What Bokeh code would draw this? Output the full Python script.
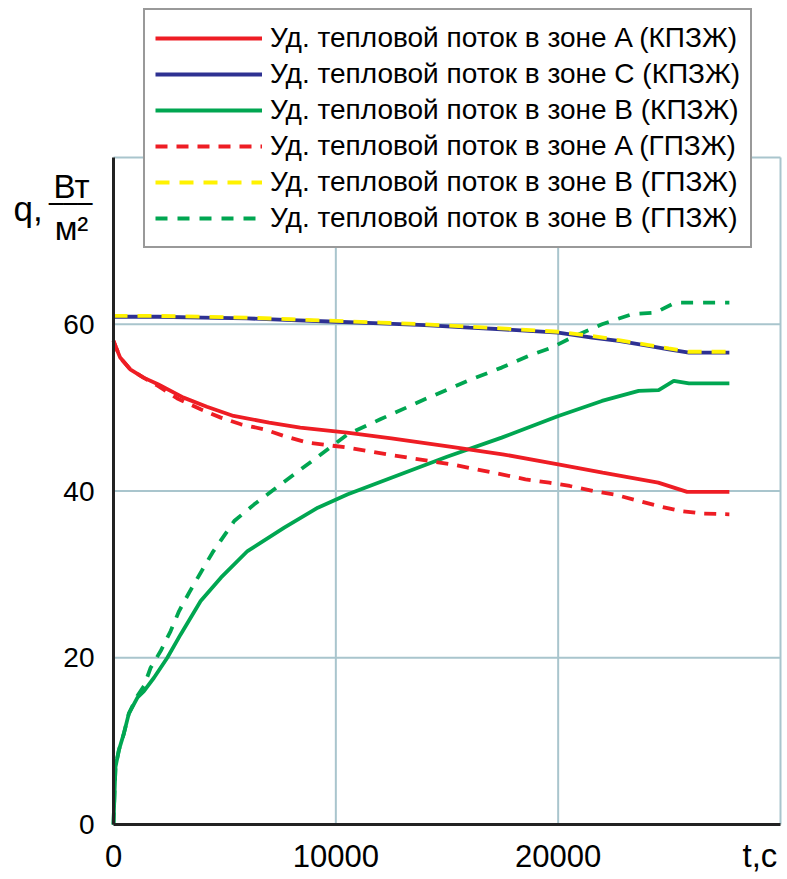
from bokeh.plotting import figure
from bokeh.models import (Legend, LegendItem, FixedTicker, Label, Range1d,
                          PrintfTickFormatter)
from bokeh.embed import file_html
from bokeh.resources import INLINE

# ---------------- data ----------------
# Zone A, КПЗЖ (solid red)
t_a_k = [0, 100, 300, 750, 1350, 2000, 3150, 4200, 5400, 7000, 8400, 10500, 12500,
         15200, 17500, 20000, 22000, 24500, 25800, 27700]
q_a_k = [58.0, 57.3, 56.0, 54.6, 53.6, 52.8, 51.2, 50.1, 49.0, 48.2, 47.6, 47.0, 46.3,
         45.3, 44.4, 43.2, 42.2, 41.0, 39.9, 39.9]

# Zone C, КПЗЖ (solid blue)
t_c_k = [0, 2000, 4000, 6000, 8000, 10000, 12000, 14000, 16000, 17460, 20000, 21520,
         22720, 24070, 24970, 25880, 27700]
q_c_k = [60.9, 60.9, 60.8, 60.7, 60.5, 60.3, 60.1, 59.9, 59.6, 59.4, 59.0, 58.4,
         58.0, 57.4, 57.0, 56.6, 56.6]

# Zone B, КПЗЖ (solid green)
t_b_k = [0, 50, 90, 240, 465, 690, 1070, 1370, 1820, 2420, 3020, 3920, 4830, 6030,
         7680, 9190, 10540, 12500, 15000, 17460, 20010, 21970, 23620, 24520, 25200,
         25880, 27700]
q_b_k = [0.0, 4.1, 6.9, 8.9, 10.9, 13.3, 15.2, 16.0, 17.6, 20.0, 22.8, 26.8, 29.6, 32.8,
         35.6, 38.0, 39.6, 41.6, 44.1, 46.4, 49.0, 50.8, 52.0, 52.1, 53.2,
         52.9, 52.9]

# Zone A, ГПЗЖ (dashed red)
t_a_g = [0, 100, 300, 750, 1350, 2000, 2870, 3920, 4830, 5730, 6770, 7670, 8740, 10540,
         12500, 15200, 17460, 18530, 19600, 20520, 21590, 22500, 23500, 24500, 25500,
         26500, 27700]
q_a_g = [58.0, 57.3, 56.0, 54.6, 53.6, 52.6, 51.1, 49.8, 48.8, 48.0, 47.4, 46.6, 45.8, 45.2,
         44.3, 43.2, 42.0, 41.4, 41.0, 40.6, 40.0, 39.6, 38.9, 38.2, 37.6,
         37.3, 37.2]

# Zone B, ГПЗЖ (dashed yellow)
t_y_g = [0, 2000, 4000, 6000, 8000, 10000, 12000, 14000, 16000, 17460, 20000, 21520,
         22720, 24070, 24970, 25880, 27700]
q_y_g = [61.0, 61.0, 60.9, 60.8, 60.6, 60.4, 60.2, 60.0, 59.7, 59.5, 59.1, 58.6,
         58.1, 57.5, 57.1, 56.7, 56.7]

# Zone B, ГПЗЖ (dashed green)
t_b_g = [0, 50, 90, 240, 465, 690, 1070, 1370, 1670, 2120, 2570, 2950, 3400, 3920, 4450,
         5430, 6330, 7230, 8130, 9030, 9930, 10540, 12000, 14000, 16000, 17460, 18660,
         19710, 20760, 21970, 23320, 24370, 25270, 27700]
q_b_g = [0.0, 4.1, 6.9, 8.9, 10.9, 13.3, 15.4, 16.6, 18.8, 20.8, 23.2, 25.6, 27.8, 30.2, 32.6,
         36.4, 38.4, 40.2, 42.0, 43.8, 45.6, 46.8, 48.6, 51.0, 53.3, 54.8, 56.2,
         57.2, 58.6, 60.0, 61.2, 61.4, 62.6, 62.6]

legend_labels = [
    "Уд. тепловой поток в зоне A (КПЗЖ)",
    "Уд. тепловой поток в зоне C (КПЗЖ)",
    "Уд. тепловой поток в зоне B (КПЗЖ)",
    "Уд. тепловой поток в зоне A (ГПЗЖ)",
    "Уд. тепловой поток в зоне B (ГПЗЖ)",
    "Уд. тепловой поток в зоне B (ГПЗЖ)",
]
x_ticks = [0, 10000, 20000]
y_ticks = [0, 20, 40, 60]
x_grid = [10000, 20000, 30000]
y_grid = [20, 40, 60, 80]
x_min, x_max = 0, 30000
y_min, y_max = 0, 80

# ---------------- layout / styles ----------------
W, H = 787, 879
AX_L, AX_R, AX_T, AX_B = 113, 780, 157, 824   # pixel box of the data area
RED = "#ee1d24"
BLUE = "#2e3192"
GREEN = "#00a651"
YELLOW = "#fff200"
GRID = "#a9c5cd"
FONT = "Liberation Sans"

# frame covers the whole canvas; the data box is placed by the ranges
sx = (AX_R - AX_L) / (x_max - x_min)
sy = (AX_B - AX_T) / (y_max - y_min)
xr = Range1d(x_min - AX_L / sx, x_max + (W - AX_R) / sx)
yr = Range1d(y_min - (H - AX_B) / sy, y_max + AX_T / sy)

p = figure(width=W, height=H, output_backend="svg", toolbar_location=None,
           x_range=xr, y_range=yr,
           min_border_left=0, min_border_right=0, min_border_top=0,
           min_border_bottom=0)
p.title.visible = False
p.background_fill_color = "white"
p.border_fill_color = "white"
p.outline_line_color = None

for ax in (p.xaxis[0], p.yaxis[0]):
    ax.axis_line_color = "#222222"
    ax.axis_line_width = 3
    ax.major_tick_line_color = None
    ax.minor_tick_line_color = None
    ax.major_tick_out = 0
    ax.major_tick_in = 0
    ax.major_label_text_font = FONT
    ax.major_label_text_color = "black"
    ax.formatter = PrintfTickFormatter(format="%d")

p.xaxis.fixed_location = y_min
p.yaxis.fixed_location = x_min
p.xaxis.bounds = (x_min, x_max)
p.yaxis.bounds = (y_min, y_max)
p.xaxis.ticker = FixedTicker(ticks=x_ticks)
p.yaxis.ticker = FixedTicker(ticks=y_ticks)
p.xaxis.major_label_text_font_size = "31px"
p.yaxis.major_label_text_font_size = "28px"
p.xaxis.major_label_standoff = 20
p.yaxis.major_label_standoff = 19

# grid lines limited to the data box (incl. top and right border lines)
p.xgrid.grid_line_color = None
p.ygrid.grid_line_color = None
p.segment(x0=x_grid, y0=[y_min] * len(x_grid), x1=x_grid, y1=[y_max] * len(x_grid),
          line_color=GRID, line_width=2)
p.segment(x0=[x_min] * len(y_grid), y0=y_grid, x1=[x_max] * len(y_grid), y1=y_grid,
          line_color=GRID, line_width=2)

LW = 3.8
r_bg = p.line(t_b_g, q_b_g, line_color=GREEN, line_width=LW, line_dash="12 10")
r_bk = p.line(t_b_k, q_b_k, line_color=GREEN, line_width=LW)
r_ag = p.line(t_a_g, q_a_g, line_color=RED, line_width=LW, line_dash="12 9")
r_ak = p.line(t_a_k, q_a_k, line_color=RED, line_width=LW)
r_ck = p.line(t_c_k, q_c_k, line_color=BLUE, line_width=LW)
r_yg = p.line(t_y_g, q_y_g, line_color=YELLOW, line_width=LW, line_dash="14 10")

items = [LegendItem(label=lab, renderers=[r]) for lab, r in
         zip(legend_labels, [r_ak, r_ck, r_bk, r_ag, r_yg, r_bg])]
# location = bottom-left corner of the legend box, from the canvas bottom-left
legend = Legend(items=items, location=(143, H - 248), orientation="vertical",
                label_text_font=FONT, label_text_font_size="28px",
                label_text_color="black",
                glyph_width=107, glyph_height=36, label_height=36,
                label_standoff=8, padding=10, spacing=0, margin=0,
                border_line_color="#333333", border_line_width=2,
                background_fill_color="white", background_fill_alpha=1.0)
p.add_layout(legend)

# axis titles (screen units from the canvas bottom-left; anchor = text middle)
def title_label(x, y_canvas, text, size, align, font=FONT):
    p.add_layout(Label(x=x, y=H - y_canvas, x_units="screen", y_units="screen",
                       text=text, text_font=font, text_font_size=f"{size}px",
                       text_color="black", text_align=align, text_baseline="middle"))

title_label(13, 208, "q,", 35, "left")
title_label(71, 185.5, "Вт", 33, "center")
title_label(70, 203.5, "───", 24, "center", font="DejaVu Sans")
title_label(71, 227.5, "м²", 33, "center")
title_label(742, 855, "t,с", 33, "left")

open("out.html", "w").write(file_html(p, INLINE))
